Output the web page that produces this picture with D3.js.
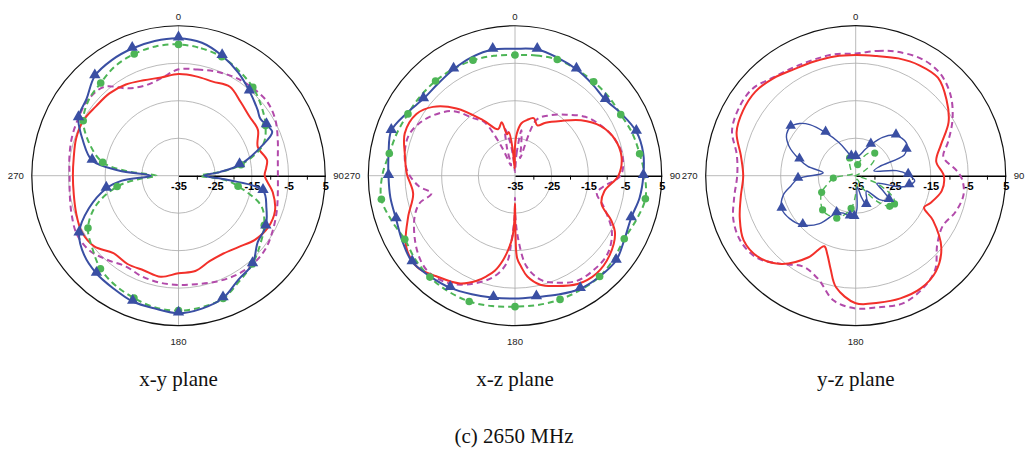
<!DOCTYPE html>
<html>
<head>
<meta charset="utf-8">
<script src="https://cdn.jsdelivr.net/npm/d3@7"></script>
<style>
  body { margin: 0; background: #fff; }
  svg { display: block; }
  .ang { font-family: "Liberation Sans", Arial, sans-serif; font-size: 9.6px; fill: #222; }
  .rlab text { font-family: "Liberation Sans", Arial, sans-serif; font-size: 11px; font-weight: bold; fill: #000; }
  .cap { font-family: "Liberation Serif", "Times New Roman", serif; font-size: 21px; fill: #111; }
</style>
</head>
<body>
<svg id="chart"></svg>
<script>
// radial axis (dB)
var ringValues = [-25, -15, -5, 5];
var radialTicks = [-35, -30, -25, -20, -15, -10, -5, 0, 5];
var radialLabels = [-35, -25, -15, -5, 5];
var titles = ["x-y plane", "x-z plane", "y-z plane"];
var caption = "(c) 2650 MHz";

// [angle in degrees, dB]
var xyBlue = [[0,2.5],[10,1.8],[20,-0.2],[30,-2.5],[40,-4.9],[50,-6.9],[55,-7.8],[60,-7.3],[65,-6.8],[70,-10.6],[80,-18.1],[85,-23.7],[90,-28],[95,-21.4],[100,-11.6],[110,-9.5],[120,-7.5],[130,-6.8],[140,-3.6],[150,-2.3],[160,0.5],[170,1.8],[180,2.5],[190,1.8],[200,1.5],[210,0.5],[220,-0.2],[230,-1.4],[240,-3.7],[250,-9],[260,-15],[265,-19.5],[270,-27.5],[275,-18.6],[280,-11.1],[290,-7.3],[300,-3.5],[310,-2.3],[320,0.5],[330,1.4],[340,1.9],[350,2.3]];
var xyGreen = [[0,0.8],[10,0.3],[20,-0.5],[30,-2],[40,-3.5],[50,-5.5],[60,-7.6],[70,-10.5],[80,-17.7],[85,-24],[90,-29],[95,-22.3],[100,-18.5],[110,-11],[120,-8],[130,-5.9],[140,-3.6],[150,-1.8],[160,0.6],[170,1.4],[180,1.8],[190,1.5],[200,0.5],[210,-0.5],[220,-1.9],[230,-4.3],[240,-6.5],[250,-11],[260,-18],[265,-24],[270,-29],[275,-21],[280,-14],[290,-9.1],[300,-5],[310,-3],[320,-2],[330,-0.5],[340,0.3],[350,0.8]];
var xyRed = [[0,-7.3],[10,-7.5],[20,-7.7],[30,-7.0],[40,-8.7],[50,-9.8],[60,-10],[70,-12],[80,-10.5],[85,-11],[90,-11.5],[100,-8.9],[110,-7.0],[120,-6.8],[130,-7.8],[140,-9.6],[150,-10.5],[160,-10.2],[170,-8.6],[180,-8.4],[190,-7.0],[200,-7.5],[210,-7.2],[220,-7.4],[230,-5.0],[240,-4.5],[250,-5.3],[260,-6.0],[270,-6.2],[280,-6.0],[290,-5.3],[300,-5.0],[310,-5.6],[320,-5.7],[330,-6.3],[340,-7.3],[350,-7.8]];
var xyMag = [[0,-6.0],[10,-5.6],[20,-4.8],[30,-4.1],[40,-3.7],[50,-3.5],[60,-4.5],[70,-6.2],[80,-7.5],[90,-7.9],[100,-7.5],[110,-6.5],[120,-5.3],[130,-4.0],[140,-3.5],[150,-3.7],[160,-4.3],[170,-5.0],[180,-5.2],[190,-5.4],[200,-5.8],[210,-6.4],[220,-5.0],[230,-3.3],[240,-3.0],[250,-4.0],[260,-4.9],[270,-5.3],[280,-4.8],[290,-4.1],[300,-3.5],[310,-2.8],[320,-3.4],[330,-7.5],[340,-8.8],[350,-8.0]];
var xyBlueMarks = [0,20,40,60,80,100,120,140,160,180,200,220,240,260,280,300,320,340];
var xyGreenMarks = [0,20,40,60,80,100,120,140,160,180,200,220,240,260,280,300,320,340];

var xzBlue = [[0,-0.4],[10,-0.05],[20,-0.8],[30,-1.5],[40,-2.3],[50,-2.8],[60,-1.4],[70,0.2],[80,0.5],[90,0],[100,-0.5],[110,-1.3],[120,-0.5],[130,1],[140,0.9],[150,0.6],[160,-0.5],[170,-1.4],[180,-1.5],[190,-1.2],[200,-0.6],[210,0.3],[220,0.9],[230,1.6],[240,0.5],[250,-0.5],[260,-0.5],[270,-0.5],[280,0],[290,0.9],[300,-0.9],[310,-2.4],[320,-2.3],[330,-1.5],[340,-0.6],[350,-0.05]];
var xzGreen = [[0,-2.1],[10,-1.7],[20,-1.3],[30,-1.5],[40,-1.6],[50,-1.6],[60,-1.7],[70,-1.0],[80,-0.5],[90,0.4],[100,1.1],[110,0.2],[120,-0.6],[130,0.2],[140,0.9],[150,0.9],[160,0.9],[170,0.8],[180,0.7],[190,1.1],[200,1.5],[210,1.4],[220,1.1],[230,0.5],[240,-0.3],[250,0.8],[260,2],[270,1.2],[280,-0.2],[290,-0.8],[300,-1.3],[310,-1.3],[320,-1.3],[330,-1.4],[340,-1.5],[350,-1.8]];
var xzRed = [[0,-27],[2.5,-23.5],[7,-20.6],[12,-19.5],[18,-18.5],[24,-20],[30,-18.3],[40,-15.5],[50,-11.5],[60,-8],[70,-6],[80,-5.5],[90,-6.8],[100,-10.3],[108,-10.2],[115,-6],[120,-3.5],[130,-1.3],[140,-0.3],[150,-0.9],[160,-3],[167,-4.5],[173,-7.3],[176,-10],[178.5,-12.5],[179.5,-19],[180,-27.5],[181,-22],[182.5,-18],[185,-15],[188,-11.8],[192,-8.5],[196,-6.4],[200,-4.5],[207,-2],[218,-0.2],[227,1.5],[237,0.4],[249,-3.8],[260,-6.8],[271,-5.5],[281,-4.4],[291,-2.8],[302,-3.3],[310,-5.8],[319,-10.7],[330,-17.5],[340,-21.5],[346,-20],[349,-23.5],[352,-23],[355,-28],[357.5,-33]];
var xzMag = [[0,-34],[4,-29],[8,-22.5],[12,-27],[16,-30],[21,-18.7],[30,-16],[40,-13.3],[50,-10],[60,-7.8],[70,-6],[80,-5.2],[90,-6.2],[97,-10.7],[102,-12.2],[109,-9.5],[120,-4.5],[130,-2],[140,-1.5],[150,-1.8],[160,-4],[166,-5.7],[172.7,-10],[177,-17.5],[179.5,-24],[180,-29],[180.5,-24],[183,-17.5],[185.5,-11],[192,-6.8],[201,-3.5],[211,-0.7],[221,0.3],[228,-0.4],[237,-2.5],[248,-5.5],[254,-8],[258,-11.7],[264,-8.5],[273,-5.5],[283,-4.2],[292,-4.1],[303,-6.3],[316,-10.5],[324,-15.6],[330,-18],[335,-26],[339,-32],[344,-27],[348,-22],[352,-26],[356,-32]];
var xzBlueMarks = [10,30,50,70,90,110,130,150,170,190,210,230,250,270,290,310,330,350];
var xzGreenMarks = [0,20,40,60,80,100,120,140,160,180,200,220,240,260,280,300,320,340];

var yzBlue = [[0,-30],[10,-29.5],[20,-27.5],[26,-25.8],[35,-22.5],[45,-19.8],[57,-18.9],[63,-19.8],[67,-21],[69,-28.2],[75,-30],[83,-24],[89,-21],[95,-19.2],[100,-20.5],[104,-22.5],[110,-29],[118,-27],[126,-24],[135,-26],[145,-30],[155,-28],[160,-26.7],[165,-29],[172,-32],[178,-26],[182,-24],[188,-24],[198,-24.5],[207,-23.8],[217,-19],[227,-15.7],[237,-14],[246,-13.4],[255,-15],[261,-17.5],[267,-19.6],[275,-26.3],[281,-22],[286,-19.4],[294,-15.5],[301,-13.5],[307,-13.3],[313,-14.6],[318,-16.7],[325,-21],[333,-25],[340,-28],[347,-29.8],[354,-30.5]];
var yzGreen = [[0,-32],[10,-32],[20,-30],[30,-28],[40,-27.1],[50,-28.5],[60,-32],[70,-35],[100,-35],[110,-29],[120,-23.5],[126,-22.2],[132,-22.8],[140,-26],[150,-31],[160,-34],[175,-32],[188,-26.2],[204,-22.6],[215,-22.2],[224,-22.3],[234,-23.5],[244,-24.9],[255,-27.5],[264,-29],[275,-33],[300,-34],[320,-33],[335,-31],[341,-30],[350,-31]];
var yzRed = [[0,-2.8],[10,-2.6],[20,-1.7],[30,-1.0],[40,-0.9],[50,-3.4],[60,-6.4],[70,-10.8],[80,-13.2],[90,-11.5],[100,-11.7],[110,-13.8],[115,-14.9],[120,-11.2],[130,-5.2],[140,-1.7],[150,-0.3],[160,-0.2],[170,-0.6],[180,-1.0],[190,-4.8],[195,-9.2],[200,-12.8],[204,-14.4],[210,-9.9],[220,-4.3],[230,-1.2],[240,-0.5],[250,-2.1],[260,-3.9],[270,-5],[280,-3.9],[290,-1.2],[300,-0.3],[310,-0.1],[320,-1.0],[330,-2.2],[340,-2.6],[350,-2.7]];
var yzMag = [[0,-2.4],[10,-1.2],[18,-0.2],[30,0.8],[40,0.3],[50,-1.9],[60,-5.2],[70,-8.8],[78,-11.1],[87,-8.1],[92,-6.6],[100,-5.8],[110,-6.7],[120,-8.2],[130,-6.6],[140,-2.1],[150,0.1],[160,1.3],[170,0.6],[180,0.4],[190,-1.2],[200,-5.7],[210,-7.0],[220,-4.3],[230,-0.8],[240,0.3],[250,-0.3],[260,-2.1],[270,-3.4],[280,-2.8],[290,0.1],[300,1.0],[310,1.0],[320,-0.8],[330,-1.7],[340,-2.1],[350,-2.1]];
var yzBlueMarks = [0,26,45,63,89,100,126,160,182,188,207,227,246,267,286,307,325,347];
var yzGreenMarks = [10,40,126,132,188,204,224,244,264,341];

var width = 1028, height = 454;
var blue = "#3a4fa3", green = "#4db556", red = "#f2302a", mag = "#b24aaa";

var svg = d3.select("#chart").attr("width", width).attr("height", height);

var plots = [
  {cx: 178.5, cy: 175.7, r: 146.7, ky: 1.022, title: titles[0], blue: xyBlue, green: xyGreen, red: xyRed, mag: xyMag, bm: xyBlueMarks, gm: xyGreenMarks, thin: false},
  {cx: 515, cy: 175.7, r: 146.7, ky: 1.022, title: titles[1], blue: xzBlue, green: xzGreen, red: xzRed, mag: xzMag, bm: xzBlueMarks, gm: xzGreenMarks, thin: false},
  {cx: 855.7, cy: 175.7, r: 150, ky: 1, title: titles[2], blue: yzBlue, green: yzGreen, red: yzRed, mag: yzMag, bm: yzBlueMarks, gm: yzGreenMarks, thin: true}
];

var drawPlot = function(p)
{
  var g = svg.append("g").attr("transform", "translate(" + p.cx + "," + p.cy + ")");
  var rScale = d3.scaleLinear().domain([-35, 5]).range([0, p.r]).clamp(true);
  var ry = p.r * p.ky;

  // grid
  g.append("line").attr("x1", 0).attr("x2", 0).attr("y1", -ry).attr("y2", ry)
    .attr("stroke", "#a8a8a8").attr("stroke-width", 0.8);
  g.append("line").attr("x1", -p.r).attr("x2", 0).attr("y1", 0).attr("y2", 0)
    .attr("stroke", "#a8a8a8").attr("stroke-width", 0.8);
  g.selectAll("ellipse.ring")
    .data(ringValues)
    .enter()
    .append("ellipse")
    .attr("class", "ring")
    .attr("rx", function(d){return rScale(d);})
    .attr("ry", function(d){return rScale(d) * p.ky;})
    .attr("fill", "none")
    .attr("stroke", function(d){return d === 5 ? "#111" : "#a8a8a8";})
    .attr("stroke-width", function(d){return d === 5 ? 1.2 : 0.8;});

  // radial axis along 90 deg
  var axis = d3.axisBottom(rScale)
    .tickValues(radialTicks)
    .tickSize(4)
    .tickSizeOuter(0)
    .tickPadding(3)
    .tickFormat(function(d){return radialLabels.indexOf(d) >= 0 ? d : "";});
  var ax = g.append("g").attr("class", "rlab").call(axis);
  ax.select(".domain").attr("stroke", "#000").attr("stroke-width", 1.5);
  ax.selectAll(".tick line")
    .attr("stroke", "#000")
    .attr("stroke-width", 1)
    .attr("opacity", function(d){return radialLabels.indexOf(d) >= 0 ? 0 : 1;});
  ax.selectAll(".tick text").attr("font-family", null).attr("font-size", null);

  // angle labels
  g.append("text").attr("class", "ang").attr("text-anchor", "middle").attr("x", 0).attr("y", -ry - 5.5).text("0");
  g.append("text").attr("class", "ang").attr("text-anchor", "middle").attr("x", 0).attr("y", ry + 19).text("180");
  g.append("text").attr("class", "ang").attr("text-anchor", "end").attr("x", -p.r - 8).attr("y", 3.5).text("270");
  g.append("text").attr("class", "ang").attr("text-anchor", "start").attr("x", p.r + 8).attr("y", 3.5).text("90");

  var line = d3.lineRadial()
    .angle(function(d){return d[0] * Math.PI / 180;})
    .radius(function(d){return rScale(d[1]);})
    .curve(d3.curveCatmullRomClosed.alpha(0.5));

  var lw = p.thin ? 1.4 : 2;
  g.append("path").attr("d", line(p.mag)).attr("fill", "none")
    .attr("stroke", mag).attr("stroke-width", 2).attr("stroke-dasharray", "6,4");
  g.append("path").attr("d", line(p.red)).attr("fill", "none")
    .attr("stroke", red).attr("stroke-width", 2);
  g.append("path").attr("d", line(p.green)).attr("fill", "none")
    .attr("stroke", green).attr("stroke-width", lw).attr("stroke-dasharray", "6,4");
  g.append("path").attr("d", line(p.blue)).attr("fill", "none")
    .attr("stroke", blue).attr("stroke-width", lw);

  var px = function(d){return rScale(d[1]) * Math.sin(d[0] * Math.PI / 180);};
  var py = function(d){return -rScale(d[1]) * Math.cos(d[0] * Math.PI / 180);};

  var gPts = p.green.filter(function(d){return p.gm.indexOf(d[0]) >= 0;});
  g.selectAll("circle.gm")
    .data(gPts)
    .enter()
    .append("circle")
    .attr("class", "gm")
    .attr("cx", px)
    .attr("cy", py)
    .attr("r", p.thin ? 3.6 : 3.8)
    .attr("fill", green);

  var bPts = p.blue.filter(function(d){return p.bm.indexOf(d[0]) >= 0;});
  var tri = d3.symbol().type(d3.symbolTriangle).size(p.thin ? 48 : 56);
  g.selectAll("path.bm")
    .data(bPts)
    .enter()
    .append("path")
    .attr("class", "bm")
    .attr("d", tri)
    .attr("transform", function(d){return "translate(" + px(d) + "," + (py(d) - 1) + ")";})
    .attr("fill", blue);

  svg.append("text").attr("class", "cap").attr("text-anchor", "middle")
    .attr("x", p.cx).attr("y", 386).text(p.title);
}

plots.forEach(function(p){ drawPlot(p); });

svg.append("text").attr("class", "cap").attr("text-anchor", "middle")
  .attr("x", 514).attr("y", 443).text(caption);
</script>
</body>
</html>
